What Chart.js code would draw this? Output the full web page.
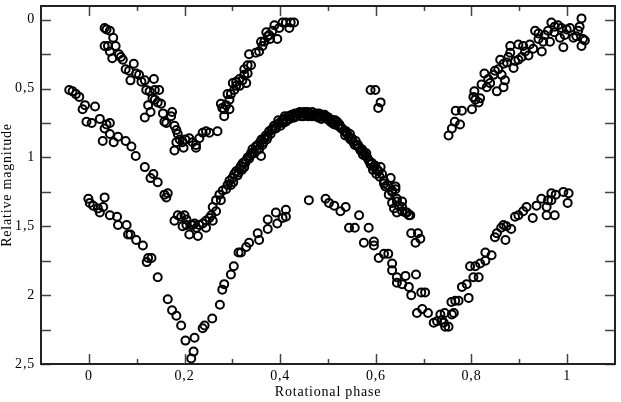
<!DOCTYPE html>
<html>
<head>
<meta charset="utf-8">
<script src="https://cdn.jsdelivr.net/npm/chart.js@4.4.1/dist/chart.umd.min.js"></script>
<style>
  html, body { margin: 0; padding: 0; background: #fff; }
</style>
</head>
<body>
<canvas id="lightCurve" width="621" height="402"></canvas>
<script>
// Light curve, three branches (phase, relative magnitude)
const topPhase = [
  0.033, 0.037, 0.044, 0.051, 0.033, 0.040, 0.056, 0.044, 0.049, 0.063,
  0.067, 0.071, 0.094, 0.077, 0.084, 0.099, 0.105, 0.087, 0.110, 0.117,
  0.136, 0.120, 0.127, 0.138, 0.147, 0.138, 0.144, 0.133, 0.124, 0.151,
  0.117, 0.129, 0.155, 0.174, 0.172, 0.162, 0.158, 0.179, 0.183, 0.186,
  0.190, 0.179, 0.183, 0.196, 0.202, 0.210, 0.217, 0.224, 0.198, 0.224,
  0.231, 0.238, 0.245, 0.252, 0.269,
  0.276, 0.283, 0.287, 0.294, 0.297, 0.301, 0.308, 0.315, 0.283, 0.294,
  0.304, 0.308, 0.321, 0.325, 0.329, 0.325, 0.332, 0.339, 0.332, 0.335,
  0.349, 0.356, 0.363, 0.367, 0.374, 0.377, 0.384, 0.394, 0.388, 0.398,
  0.405, 0.412, 0.419, 0.422, 0.429, 0.360, 0.371, 0.379, 0.315, 0.290,
  0.279,
  0.589, 0.599, 0.610, 0.605,
  0.752, 0.759, 0.765, 0.776, 0.767, 0.780, 0.801, 0.808, 0.815, 0.818,
  0.806, 0.821, 0.832, 0.839, 0.835, 0.846, 0.849, 0.856, 0.853, 0.867,
  0.870, 0.863, 0.860, 0.867, 0.874, 0.877, 0.888, 0.891, 0.881, 0.898,
  0.905, 0.898, 0.908, 0.912, 0.919, 0.922, 0.929, 0.933, 0.940, 0.947,
  0.950, 0.953, 0.960, 0.964, 0.967, 0.974, 0.981, 0.988, 0.992, 0.985,
  0.995, 0.999, 1.006, 1.013, 1.019, 1.023, 1.026, 1.030, 1.030, 1.033,
  1.037, 0.804, 0.827, 0.881, 0.940, 0.973
];
const topMag = [
  0.06, 0.07, 0.08, 0.13, 0.19, 0.19, 0.19, 0.23, 0.28, 0.25,
  0.27, 0.29, 0.32, 0.36, 0.37, 0.39, 0.40, 0.44, 0.45, 0.44,
  0.43, 0.51, 0.52, 0.51, 0.51, 0.58, 0.60, 0.57, 0.62, 0.61,
  0.71, 0.67, 0.68, 0.67, 0.70, 0.75, 0.74, 0.77, 0.80, 0.83,
  0.87, 0.95, 0.89, 0.89, 0.87, 0.86, 0.89, 0.91, 0.93, 0.93,
  0.86, 0.82, 0.81, 0.82, 0.81,
  0.61, 0.65, 0.62, 0.58, 0.54, 0.46, 0.45, 0.43, 0.70, 0.65,
  0.51, 0.48, 0.44, 0.40, 0.46, 0.36, 0.33, 0.33, 0.39, 0.25,
  0.24, 0.23, 0.19, 0.16, 0.12, 0.11, 0.08, 0.14, 0.04, 0.06,
  0.02, 0.02, 0.06, 0.02, 0.02, 0.16, 0.09, 0.14, 0.48, 0.54,
  0.64,
  0.51, 0.51, 0.60, 0.64,
  0.84, 0.79, 0.74, 0.76, 0.66, 0.66, 0.65, 0.58, 0.60, 0.57,
  0.52, 0.47, 0.49, 0.46, 0.43, 0.40, 0.37, 0.36, 0.52, 0.49,
  0.44, 0.40, 0.29, 0.32, 0.31, 0.27, 0.35, 0.30, 0.19, 0.29,
  0.27, 0.18, 0.19, 0.23, 0.26, 0.18, 0.21, 0.08, 0.10, 0.23,
  0.16, 0.11, 0.08, 0.16, 0.02, 0.05, 0.04, 0.06, 0.20, 0.13,
  0.11, 0.07, 0.06, 0.13, 0.12, 0.08, 0.05, -0.01, 0.19, 0.14,
  0.15, 0.56, 0.39, 0.24, 0.14, 0.09
];

const midPhase = [
  -0.041, -0.034, -0.027, -0.020, -0.008, -0.013, 0.013, -0.005, 0.006, 0.023,
  0.033, 0.037, 0.044, 0.029, 0.044, 0.052, 0.061, 0.077, 0.089, 0.098,
  0.117, 0.129, 0.135, 0.144, 0.158, 0.165, 0.162,
  0.179, 0.186, 0.193, 0.200, 0.204, 0.210, 0.214, 0.221, 0.228, 0.231,
  0.238, 0.245, 0.252, 0.259, 0.256, 0.266, 0.259, 0.266, 0.273, 0.280,
  0.287, 0.297, 0.276, 0.204, 0.217, 0.245, 0.196, 0.225,
  0.290, 0.294, 0.300, 0.304, 0.308, 0.311, 0.315, 0.318, 0.322, 0.325,
  0.329, 0.332, 0.335, 0.339, 0.342, 0.346, 0.349, 0.353, 0.356, 0.360,
  0.358, 0.361, 0.365, 0.367, 0.370, 0.374, 0.377, 0.380, 0.384, 0.387,
  0.391, 0.394, 0.398, 0.401, 0.404, 0.408, 0.410, 0.414, 0.417, 0.420,
  0.424, 0.427, 0.431, 0.434, 0.437, 0.441, 0.444, 0.447, 0.450, 0.454,
  0.457, 0.460, 0.464, 0.467, 0.471, 0.474, 0.477, 0.481, 0.484, 0.488,
  0.491, 0.495, 0.498, 0.501, 0.505, 0.509, 0.511, 0.515, 0.519, 0.521,
  0.524, 0.528, 0.530, 0.534, 0.538, 0.540, 0.544, 0.547, 0.550, 0.553,
  0.558, 0.560, 0.565, 0.568, 0.571, 0.575, 0.578, 0.582, 0.585, 0.589,
  0.592, 0.596, 0.599, 0.603, 0.606, 0.610, 0.613, 0.617, 0.620, 0.617,
  0.624, 0.627, 0.631, 0.634, 0.634, 0.638, 0.641, 0.641, 0.634, 0.644,
  0.644, 0.648, 0.655, 0.644, 0.655, 0.655, 0.662, 0.665, 0.669, 0.672,
  0.674, 0.688, 0.683, 0.693,
  0.302, 0.313, 0.320, 0.327, 0.337, 0.344, 0.351, 0.363, 0.372, 0.382,
  0.389, 0.396, 0.406, 0.412, 0.422, 0.430, 0.439, 0.449, 0.458, 0.469,
  0.479, 0.486, 0.493, 0.503, 0.513, 0.526, 0.536, 0.546, 0.556, 0.563,
  0.573, 0.580, 0.587, 0.594, 0.601, 0.608
];
const midMag = [
  0.51, 0.52, 0.54, 0.56, 0.62, 0.65, 0.63, 0.74, 0.75, 0.72,
  0.79, 0.76, 0.75, 0.88, 0.83, 0.89, 0.85, 0.88, 0.92, 0.99,
  1.07, 1.15, 1.12, 1.18, 1.27, 1.26, 1.29,
  1.46, 1.42, 1.43, 1.42, 1.49, 1.56, 1.49, 1.48, 1.57, 1.49,
  1.48, 1.51, 1.44, 1.46, 1.42, 1.39, 1.36, 1.31, 1.27, 1.24,
  1.23, 1.20, 1.31, 1.45, 1.49, 1.46, 1.50, 1.51,
  1.20, 1.17, 1.15, 1.12, 1.10, 1.13, 1.08, 1.06, 1.04, 1.07,
  1.02, 1.00, 1.01, 0.97, 0.94, 0.97, 0.92, 0.91, 0.94, 0.99,
  0.89, 0.87, 0.89, 0.86, 0.84, 0.85, 0.81, 0.83, 0.79, 0.77,
  0.79, 0.76, 0.75, 0.77, 0.73, 0.72, 0.70, 0.73, 0.70, 0.72,
  0.69, 0.71, 0.68, 0.70, 0.68, 0.67, 0.70, 0.68, 0.67, 0.69,
  0.67, 0.68, 0.70, 0.67, 0.69, 0.68, 0.70, 0.68, 0.70, 0.69,
  0.71, 0.70, 0.72, 0.71, 0.74, 0.75, 0.73, 0.73, 0.74, 0.77,
  0.76, 0.79, 0.79, 0.81, 0.81, 0.83, 0.85, 0.87, 0.86, 0.89,
  0.88, 0.91, 0.93, 0.95, 0.94, 0.96, 0.99, 1.00, 1.02, 1.05,
  1.04, 1.07, 1.06, 1.09, 1.10, 1.07, 1.12, 1.17, 1.21, 1.19,
  1.20, 1.27, 1.15, 1.24, 1.25, 1.37, 1.21, 1.23, 1.33, 1.30,
  1.32, 1.35, 1.32, 1.40, 1.36, 1.39, 1.40, 1.40, 1.42, 1.42,
  1.55, 1.55, 1.62, 1.59,
  1.18, 1.11, 1.09, 1.04, 0.99, 0.96, 0.95, 0.91, 0.87, 0.80,
  0.79, 0.73, 0.75, 0.74, 0.70, 0.71, 0.69, 0.70, 0.70, 0.70,
  0.71, 0.72, 0.69, 0.72, 0.76, 0.78, 0.84, 0.83, 0.91, 0.91,
  0.98, 0.97, 1.03, 1.09, 1.12, 1.14
];

const lowPhase = [
  -0.001, 0.002, 0.009, 0.033, 0.019, 0.030, 0.023, 0.044, 0.059, 0.061,
  0.079, 0.082, 0.087, 0.099, 0.113, 0.124, 0.131, 0.121, 0.144, 0.165,
  0.174, 0.183, 0.193, 0.202, 0.214, 0.219, 0.221, 0.238, 0.242, 0.258,
  0.274, 0.279, 0.283, 0.297, 0.303, 0.313, 0.318, 0.329, 0.335, 0.353,
  0.356, 0.374, 0.374, 0.391, 0.394, 0.405, 0.412, 0.412,
  0.460,
  0.495, 0.502, 0.513, 0.526, 0.537, 0.565, 0.544, 0.556, 0.585, 0.575,
  0.596, 0.596, 0.606, 0.617, 0.626, 0.634, 0.634, 0.644, 0.644, 0.662,
  0.655, 0.669, 0.674, 0.684, 0.695, 0.703, 0.686, 0.697, 0.709,
  0.721, 0.728, 0.735, 0.738, 0.742, 0.745, 0.752, 0.744, 0.759, 0.763,
  0.758, 0.766, 0.773, 0.780, 0.790, 0.794, 0.797, 0.808, 0.804, 0.815,
  0.818, 0.829, 0.829, 0.842, 0.849, 0.853, 0.862, 0.867, 0.871, 0.873,
  0.883, 0.891, 0.898, 0.908, 0.915, 0.928, 0.936, 0.946, 0.957, 0.957,
  0.960, 0.967, 0.974, 0.967, 0.976, 0.992, 1.001, 1.003
];
const lowMag = [
  1.30, 1.33, 1.35, 1.29, 1.37, 1.36, 1.40, 1.42, 1.43, 1.49,
  1.49, 1.56, 1.56, 1.60, 1.64, 1.73, 1.73, 1.76, 1.87, 2.03,
  2.11, 2.15, 2.22, 2.33, 2.46, 2.41, 2.31, 2.24, 2.22, 2.17,
  2.07, 1.96, 1.92, 1.85, 1.79, 1.69, 1.69, 1.65, 1.62, 1.55,
  1.60, 1.45, 1.52, 1.40, 1.48, 1.44, 1.38, 1.43,
  1.31,
  1.30, 1.33, 1.35, 1.39, 1.36, 1.42, 1.51, 1.51, 1.51, 1.62,
  1.61, 1.64, 1.73, 1.70, 1.70, 1.77, 1.82, 1.87, 1.91, 1.86,
  1.92, 1.94, 2.00, 1.85, 1.98, 1.98, 2.13, 2.10, 2.13,
  2.20, 2.19, 2.14, 2.18, 2.20, 2.23, 2.23, 2.13, 2.14, 2.13,
  2.05, 2.04, 2.04, 1.94, 1.92, 2.02, 1.79, 1.79, 1.87, 1.87,
  1.77, 1.75, 1.69, 1.71, 1.58, 1.55, 1.51, 1.49, 1.60, 1.50,
  1.52, 1.43, 1.42, 1.39, 1.36, 1.44, 1.35, 1.30, 1.36, 1.42,
  1.31, 1.26, 1.42, 1.31, 1.27, 1.25, 1.33, 1.26
];

// Axis ticks
const xTicks = [0, 0.2, 0.4, 0.6, 0.8, 1];
const yTicks = [0, 0.5, 1, 1.5, 2, 2.5];

const toPoints = (px, py) => px.map((p, i) => ({ x: p, y: py[i] }));
const commaLabel = v => String(v).replace('.', ',');
const serif = "'Liberation Serif', 'DejaVu Serif', serif";

const pointStyle = {
  showLine: false,
  pointRadius: 4,
  pointHoverRadius: 4,
  pointBorderWidth: 2,
  pointBorderColor: '#000',
  pointBackgroundColor: 'rgba(0,0,0,0)'
};

// frame around the plot with inward ticks on all four sides
const framePlugin = {
  id: 'frame',
  beforeDraw(chart) {
    chart.ctx.letterSpacing = '0.8px';
  },
  afterDatasetsDraw(chart) {
    const { ctx, chartArea: a, scales: { x, y } } = chart;
    ctx.save();
    ctx.strokeStyle = '#444';
    ctx.lineWidth = 1.5;
    ctx.beginPath();
    for (let i = 0; i <= 10; i++) {
      const px = Math.round(x.getPixelForValue(i / 10)) + 0.5;
      const len = i % 2 === 0 ? 10 : 5;
      ctx.moveTo(px, a.bottom); ctx.lineTo(px, a.bottom - len);
      ctx.moveTo(px, a.top); ctx.lineTo(px, a.top + len);
    }
    for (let i = 0; i <= 10; i++) {
      const py = Math.round(y.getPixelForValue(i * 0.25)) + 0.5;
      ctx.moveTo(a.left, py); ctx.lineTo(a.left + 10, py);
      ctx.moveTo(a.right, py); ctx.lineTo(a.right - 10, py);
    }
    ctx.stroke();
    ctx.strokeStyle = '#222';
    ctx.lineWidth = 2;
    ctx.strokeRect(a.left, a.top, a.right - a.left, a.bottom - a.top);
    ctx.restore();
  }
};

// fixed axis boxes, no extra room kept for overhanging labels
const fitX = s => {
  s.height = 38;
  s.paddingLeft = 0; s.paddingRight = 0; s.paddingTop = 0; s.paddingBottom = 0;
};
const fitY = s => {
  s.width = 41;
  s.paddingLeft = 0; s.paddingRight = 0; s.paddingTop = 0; s.paddingBottom = 0;
};

const ctx = document.getElementById('lightCurve').getContext('2d');
new Chart(ctx, {
  type: 'scatter',
  data: {
    datasets: [
      { label: 'top', data: toPoints(topPhase, topMag), ...pointStyle },
      { label: 'middle', data: toPoints(midPhase, midMag), ...pointStyle },
      { label: 'bottom', data: toPoints(lowPhase, lowMag), ...pointStyle }
    ]
  },
  options: {
    responsive: false,
    animation: false,
    events: [],
    layout: { padding: { top: 1, right: 1, left: 0, bottom: 0 } },
    plugins: {
      legend: { display: false },
      tooltip: { enabled: false }
    },
    scales: {
      x: {
        type: 'linear',
        min: -0.1,
        max: 1.1,
        grid: { display: false, drawTicks: false },
        border: { display: false },
        afterBuildTicks: s => { s.ticks = xTicks.map(v => ({ value: v })); },
        afterFit: fitX,
        ticks: {
          color: '#000',
          padding: 4,
          maxRotation: 0,
          font: { family: serif, size: 14 },
          callback: commaLabel
        },
        title: {
          display: true,
          text: 'Rotational phase',
          color: '#000',
          font: { family: serif, size: 14, lineHeight: 1 },
          padding: { top: 0, bottom: 3 }
        }
      },
      y: {
        type: 'linear',
        reverse: true,
        min: -0.1,
        max: 2.5,
        grid: { display: false, drawTicks: false },
        border: { display: false },
        afterBuildTicks: s => { s.ticks = yTicks.map(v => ({ value: v })); },
        afterFit: fitY,
        ticks: {
          color: '#000',
          padding: 6,
          font: { family: serif, size: 14 },
          callback: commaLabel
        },
        title: {
          display: true,
          text: 'Relative magnitude',
          color: '#000',
          font: { family: serif, size: 14, lineHeight: 1 },
          padding: { top: 0, bottom: 0 }
        }
      }
    }
  },
  plugins: [framePlugin]
});
</script>
</body>
</html>
